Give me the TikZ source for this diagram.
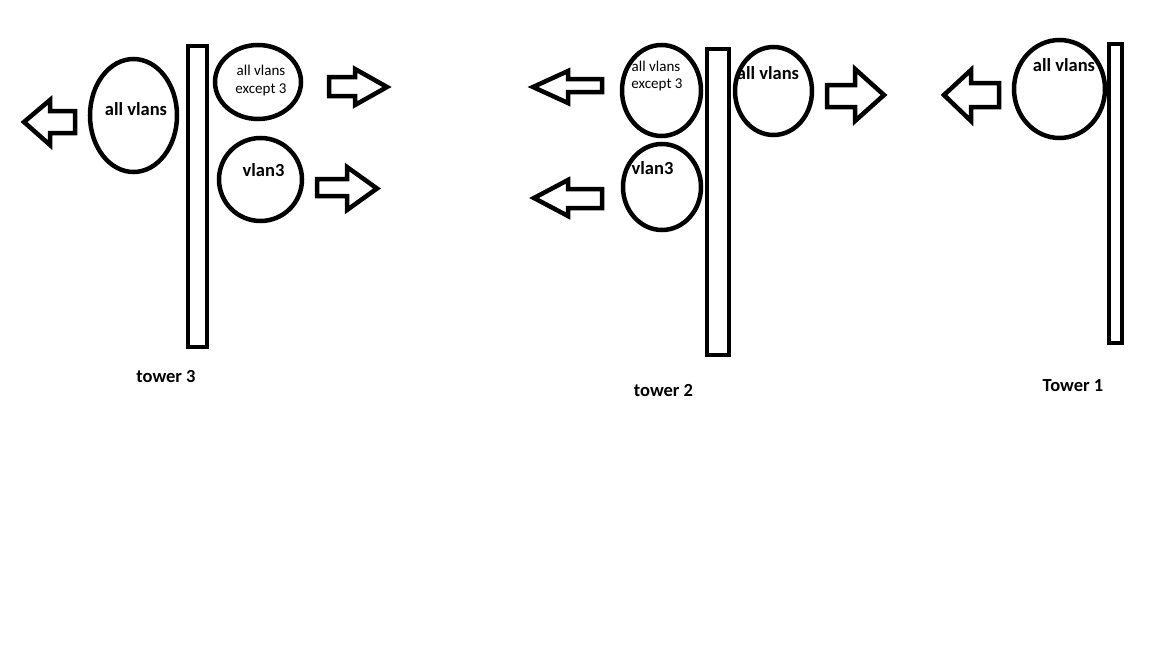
\documentclass[tikz,border=0pt]{standalone}
\usepackage{fontspec}
\setmainfont{Carlito}
\usetikzlibrary{shapes.geometric}
\tikzset{
  ln/.style={line width=4.5pt, line join=miter},
  oval/.style={ln, draw, ellipse, inner sep=0pt, outer sep=0pt},
  pole/.style={ln, draw},
  blockarrow/.style={ln, draw},
  bigtxt/.style={anchor=base, inner sep=0pt, font=\fontsize{18.5}{20}\selectfont\bfseries},
  smalltxt/.style={anchor=base, inner sep=0pt, font=\fontsize{15}{16}\selectfont},
}
\begin{document}
\begin{tikzpicture}[x=1pt, y=-1pt]
\useasboundingbox[fill=white] (0,0) rectangle (1152,648);

% ---------- tower 3 ----------
\draw[pole] (188,46) rectangle (207,347);
\node[oval, minimum width=87pt, minimum height=113pt] (t3all) at (133.5,115.5) {};
\node[oval, minimum width=86pt, minimum height=74pt] (t3exc) at (258,82) {};
\node[oval, minimum width=83pt, minimum height=83pt] (t3v3) at (260.5,179.5) {};
\node[bigtxt] (t3allt) at (136,115) {all vlans};
\node[smalltxt] (t3exct1) at (261,75) {all vlans};
\node[smalltxt] (t3exct2) at (261,93) {except 3};
\node[bigtxt] (t3v3t) at (263.5,176.5) {vlan3};
\node[bigtxt] (t3lab) at (166,382) {tower 3};
\draw[blockarrow] (24,122) -- (50,100) -- (50,111) -- (75,111) -- (75,133) -- (50,133) -- (50,145) -- cycle;
\draw[blockarrow] (329,77) -- (355,77) -- (355,69) -- (387,87) -- (355,105) -- (355,96) -- (329,96) -- cycle;
\draw[blockarrow] (317,179) -- (347,179) -- (347,167) -- (377,188.5) -- (347,210) -- (347,196) -- (317,196) -- cycle;

% ---------- tower 2 ----------
\draw[pole] (707,49) rectangle (729,355);
\node[oval, minimum width=79pt, minimum height=91pt] (t2exc) at (661.5,90.5) {};
\node[oval, minimum width=78pt, minimum height=86pt] (t2v3) at (662,187) {};
\node[oval, minimum width=77pt, minimum height=88pt] (t2all) at (773.5,91) {};
\node[smalltxt] (t2exct1) at (656,71.5) {all vlans};
\node[smalltxt] (t2exct2) at (657,88.5) {except 3};
\node[bigtxt] (t2v3t) at (652.5,174) {vlan3};
\node[bigtxt] (t2allt) at (768,79) {all vlans};
\node[bigtxt] (t2lab) at (663.5,396) {tower 2};
\draw[blockarrow] (533,87) -- (568,71) -- (568,79) -- (602,79) -- (602,92) -- (568,92) -- (568,103) -- cycle;
\draw[blockarrow] (534,198) -- (568,180) -- (568,189) -- (602,189) -- (602,208) -- (568,208) -- (568,216) -- cycle;
\draw[blockarrow] (827,85) -- (855,85) -- (855,69) -- (884,95) -- (855,121) -- (855,107) -- (827,107) -- cycle;

% ---------- tower 1 ----------
\draw[pole] (1109,44) rectangle (1122,343);
\node[oval, minimum width=91pt, minimum height=98pt] (t1all) at (1059.5,89) {};
\node[bigtxt] (t1allt) at (1064,71.5) {all vlans};
\node[bigtxt] (t1lab) at (1073,391.5) {Tower 1};
\draw[blockarrow] (944,95) -- (971,70) -- (971,83) -- (999,83) -- (999,107) -- (971,107) -- (971,121) -- cycle;
\end{tikzpicture}
\end{document}
